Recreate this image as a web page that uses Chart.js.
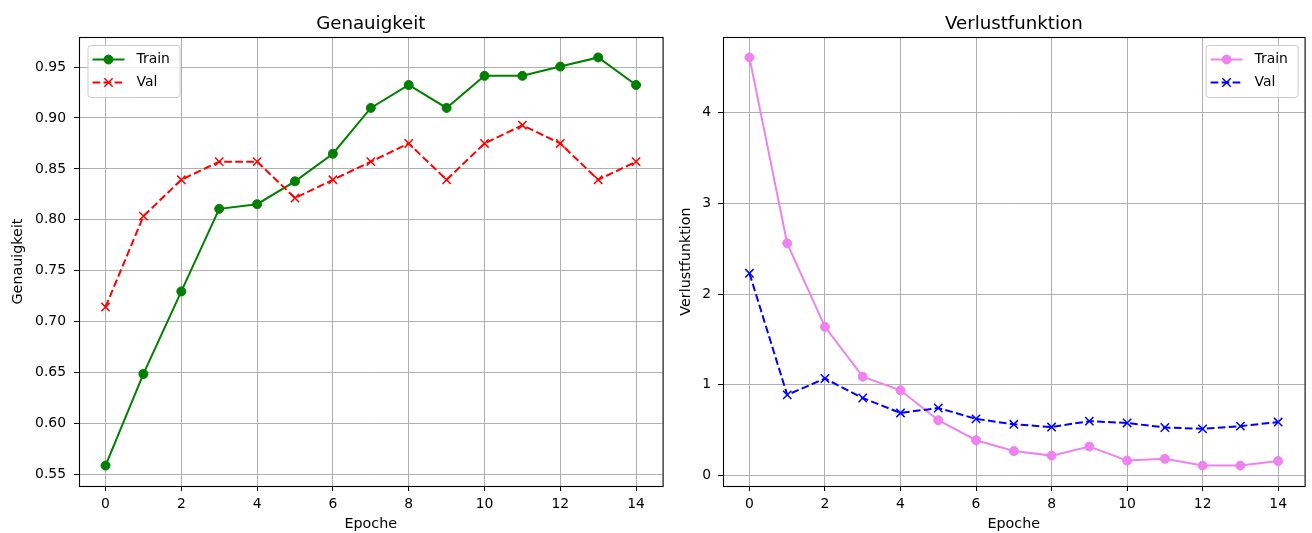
<!DOCTYPE html>
<html><head><meta charset="utf-8">
<script src="https://cdn.jsdelivr.net/npm/chart.js@4.4.0/dist/chart.umd.min.js"></script>
<style>
html,body{margin:0;padding:0;background:#fff;}
#c1{position:absolute;left:0;top:0;}
#c2{position:absolute;left:670px;top:0;}
</style></head><body>
<canvas id="c1" width="670" height="533"></canvas>
<canvas id="c2" width="642" height="533"></canvas>
<script>
// ---- data ----
const epochs = [0,1,2,3,4,5,6,7,8,9,10,11,12,13,14];
const trainAcc = [0.5586,0.6486,0.7297,0.8108,0.8153,0.8378,0.8649,0.9099,0.9324,0.9099,0.9414,0.9414,0.9505,0.9595,0.9324];
const valAcc   = [0.7143,0.8036,0.8393,0.8571,0.8571,0.8214,0.8393,0.8571,0.8750,0.8393,0.8750,0.8929,0.8750,0.8393,0.8571];
const trainLoss = [4.61,2.56,1.64,1.09,0.94,0.61,0.39,0.27,0.22,0.32,0.165,0.185,0.11,0.11,0.16];
const valLoss   = [2.23,0.89,1.07,0.855,0.69,0.745,0.625,0.565,0.535,0.60,0.58,0.53,0.515,0.545,0.59];
const xTicks = [0,2,4,6,8,10,12,14];
const accTicks = [0.55,0.60,0.65,0.70,0.75,0.80,0.85,0.90,0.95];
const lossTicks = [0,1,2,3,4];
const seriesLabels = ['Train','Val'];
const titles = ['Genauigkeit','Verlustfunktion'];
const xTitle = 'Epoche';

const FONT = '"DejaVu Sans", sans-serif';
const pts = (xs, ys) => xs.map((x,i)=>({x, y: ys[i]}));
const lim = (arrs) => { const all=[].concat(...arrs); const lo=Math.min(...all), hi=Math.max(...all); const p=0.05*(hi-lo); return [lo-p, hi+p]; };

const decor = {
  id: 'decor',
  afterDraw(chart, args, opts) {
    const ctx = chart.ctx, a = chart.chartArea;
    ctx.save();
    // frame
    ctx.strokeStyle = '#000'; ctx.lineWidth = 1.1; ctx.setLineDash([]);
    ctx.strokeRect(a.left + 0.5, a.top + 0.5, a.right - a.left, a.bottom - a.top);
    // title
    ctx.fillStyle = '#000';
    ctx.font = '18.2px ' + FONT;
    ctx.textAlign = 'center'; ctx.textBaseline = 'alphabetic';
    ctx.fillText(opts.title, (a.left + a.right) / 2, 28.5);
    // legend
    const bw = 92, bh = 52;
    const bx = opts.side === 'left' ? a.left + 8.5 : a.right - 7 - bw;
    const by = a.top + 8;
    ctx.beginPath();
    ctx.roundRect(bx + 0.5, by + 0.5, bw, bh, 3);
    ctx.fillStyle = 'rgba(255,255,255,0.8)'; ctx.fill();
    ctx.strokeStyle = '#cccccc'; ctx.lineWidth = 1; ctx.stroke();
    chart.data.datasets.forEach((ds, i) => {
      const y = by + 14.5 + i * 23;
      const x0 = bx + 5, x1 = bx + 37;
      ctx.beginPath();
      ctx.setLineDash(ds.borderDash || []);
      ctx.strokeStyle = ds.borderColor; ctx.lineWidth = ds.borderWidth;
      ctx.moveTo(x0, y); ctx.lineTo(x1, y); ctx.stroke();
      ctx.setLineDash([]);
      ctx.fillStyle = ds.pointBackgroundColor; ctx.strokeStyle = ds.borderColor; ctx.lineWidth = ds.pointBorderWidth;
      Chart.helpers.drawPoint(ctx, {pointStyle: ds.pointStyle, radius: ds.pointRadius, borderWidth: ds.pointBorderWidth, rotation: 0}, (x0 + x1) / 2, y);
      ctx.fillStyle = '#000';
      ctx.font = '13.9px ' + FONT;
      ctx.textAlign = 'left'; ctx.textBaseline = 'middle';
      ctx.fillText(ds.label, bx + 49, y);
    });
    ctx.restore();
  }
};

function makeDs(label, data, color, dashed) {
  return {
    label, data, borderColor: color, backgroundColor: color, pointBackgroundColor: color,
    borderWidth: 2, borderDash: dashed ? [7.7, 3.3] : [],
    pointStyle: dashed ? 'crossRot' : 'circle',
    pointRadius: dashed ? 5.9 : 4.5, pointHoverRadius: dashed ? 5.9 : 4.5,
    pointBorderWidth: dashed ? 1.5 : 1, pointHoverBorderWidth: dashed ? 1.5 : 1,
    tension: 0, fill: false, order: dashed ? 0 : 1
  };
}

function makeChart(id, cfg) {
  const tickFont = {family: FONT, size: 13.9};
  const labFont = {family: FONT, size: 14.3};
  return new Chart(document.getElementById(id), {
    type: 'line',
    data: {datasets: [
      makeDs(seriesLabels[0], pts(epochs, cfg.train), cfg.c1, false),
      makeDs(seriesLabels[1], pts(epochs, cfg.val), cfg.c2, true)
    ]},
    options: {
      responsive: false, animation: false, devicePixelRatio: 1,
      layout: {padding: {top: 37, right: cfg.padRight, bottom: 0, left: 0}},
      plugins: {
        legend: {display: false}, tooltip: {enabled: false},
        decor: {title: cfg.title, side: cfg.side}
      },
      scales: {
        x: {
          type: 'linear', min: -0.7, max: 14.7,
          afterBuildTicks: s => { s.ticks = xTicks.map(v => ({value: v})); },
          afterFit: s => { s.height = 47; },
          ticks: {font: tickFont, color: '#000', padding: 5, maxRotation: 0, autoSkip: false, callback: v => String(v)},
          grid: {color: '#b0b0b0', lineWidth: 1, tickColor: '#000', tickLength: 5, drawTicks: true},
          border: {display: false},
          title: {display: true, text: xTitle, font: labFont, color: '#000', padding: {top: 0, bottom: 0}}
        },
        y: {
          type: 'linear', min: cfg.ylim[0], max: cfg.ylim[1],
          afterBuildTicks: s => { s.ticks = cfg.yTicks.map(v => ({value: v})); },
          afterFit: s => { s.width = cfg.yWidth; },
          ticks: {font: tickFont, color: '#000', padding: cfg.yPad, autoSkip: false, callback: cfg.fmt},
          grid: {color: '#b0b0b0', lineWidth: 1, tickColor: '#000', tickLength: 5, drawTicks: true},
          border: {display: false},
          title: {display: true, text: cfg.title, font: labFont, color: '#000', padding: {top: cfg.titlePad, bottom: 0}}
        }
      }
    },
    plugins: [decor]
  });
}

makeChart('c1', {
  train: trainAcc, val: valAcc, c1: '#008000', c2: '#ff0000', title: titles[0], side: 'left',
  ylim: lim([trainAcc, valAcc]), yTicks: accTicks, fmt: v => v.toFixed(2),
  yWidth: 79, padRight: 7, yPad: 8, titlePad: 9.5
});
makeChart('c2', {
  train: trainLoss, val: valLoss, c1: '#ee82ee', c2: '#0000ff', title: titles[1], side: 'right',
  ylim: lim([trainLoss, valLoss]), yTicks: lossTicks, fmt: v => String(Math.round(v)),
  yWidth: 53, padRight: 5, yPad: 7, titlePad: 7.5
});
</script>
</body></html>
